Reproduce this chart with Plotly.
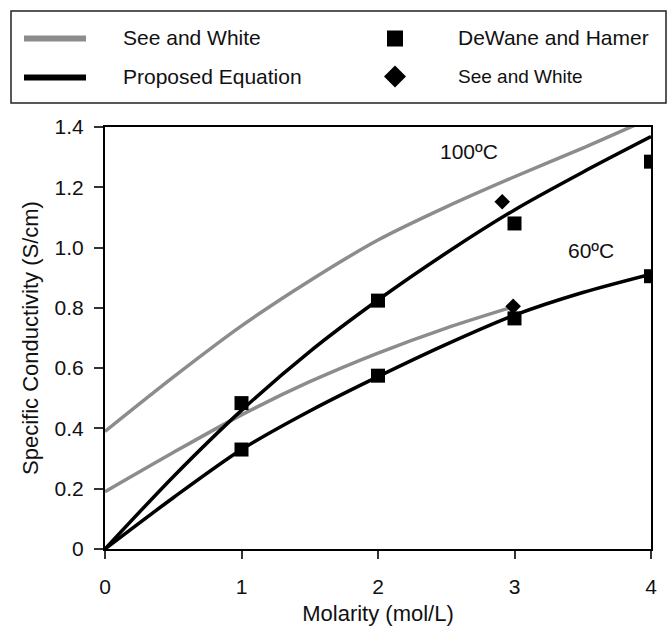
import plotly.graph_objects as go

# ---------------- data ----------------
x_curve = [0, 0.5, 1, 1.5, 2, 2.5, 3, 3.5, 4]
# See and White correlation (grey curves)
sw100_x = [0, 0.5, 1, 1.5, 2, 2.5, 3, 3.5, 4]
sw100_y = [0.39, 0.57, 0.74, 0.89, 1.025, 1.135, 1.235, 1.33, 1.43]
sw60_x = [0, 0.5, 1, 1.5, 2, 2.5, 3]
sw60_y = [0.19, 0.32, 0.445, 0.555, 0.65, 0.733, 0.805]
# Proposed equation (black curves)
pe100_y = [0, 0.24, 0.46, 0.655, 0.826, 0.982, 1.125, 1.25, 1.368]
pe60_y = [0, 0.17, 0.33, 0.458, 0.572, 0.679, 0.776, 0.851, 0.912]
# DeWane and Hamer data (squares)
dh_x = [1, 2, 3, 4, 1, 2, 3, 4]
dh_y = [0.484, 0.824, 1.08, 1.285, 0.33, 0.575, 0.765, 0.905]
# See and White data (diamonds)
swd_x = [2.91, 2.99]
swd_y = [1.152, 0.805]

x_ticks = [0, 1, 2, 3, 4]
x_ticktext = ["0", "1", "2", "3", "4"]
y_ticks = [0, 0.2, 0.4, 0.6, 0.8, 1.0, 1.2, 1.4]
y_ticktext = ["0", "0.2", "0.4", "0.6", "0.8", "1.0", "1.2", "1.4"]

temp_labels = ["100ºC", "60ºC"]
temp_label_x = [2.665, 3.56]
temp_label_y = [1.32, 0.99]

legend_labels = ["See and White", "Proposed Equation", "DeWane and Hamer", "See and White"]

# ---------------- style ----------------
FONT = "Liberation Sans, Arial, Helvetica, sans-serif"
GREY = "rgb(140,140,140)"
W, H = 668, 627
ML, MR, MT, MB = 105, 17, 127, 78
PW, PH = W - ML - MR, H - MT - MB


def px_x(px):
    return (px - ML) / PW


def px_y(py):
    return (H - MB - py) / PH


fig = go.Figure()

fig.add_trace(go.Scatter(x=sw100_x, y=sw100_y, mode="lines",
                         line=dict(color=GREY, width=3.5, shape="spline", smoothing=0.8),
                         showlegend=False, name="See and White"))
fig.add_trace(go.Scatter(x=sw60_x, y=sw60_y, mode="lines",
                         line=dict(color=GREY, width=3.5, shape="spline", smoothing=0.8),
                         showlegend=False, name="See and White"))
fig.add_trace(go.Scatter(x=x_curve, y=pe100_y, mode="lines",
                         line=dict(color="black", width=3.5, shape="spline", smoothing=0.8),
                         showlegend=False, name="Proposed Equation"))
fig.add_trace(go.Scatter(x=x_curve, y=pe60_y, mode="lines",
                         line=dict(color="black", width=3.5, shape="spline", smoothing=0.8),
                         showlegend=False, name="Proposed Equation"))
fig.add_trace(go.Scatter(x=dh_x, y=dh_y, mode="markers", marker=dict(symbol="square", size=14, color="black"),
                         showlegend=False, name="DeWane and Hamer"))
fig.add_trace(go.Scatter(x=swd_x, y=swd_y, mode="markers", marker=dict(symbol="diamond", size=12, color="black"),
                         showlegend=False, name="See and White"))

annotations = []
for t, xx, yy in zip(temp_labels, temp_label_x, temp_label_y):
    annotations.append(dict(x=xx, y=yy, xref="x", yref="y", text=t, showarrow=False,
                            font=dict(family=FONT, size=21, color="#111")))

# ---- custom legend (box, line samples, marker samples, labels) ----
shapes = []
shapes.append(dict(type="rect", xref="paper", yref="paper", x0=px_x(11), x1=px_x(666), y0=px_y(103), y1=px_y(11),
                   line=dict(color="#222", width=1.5), fillcolor="rgba(0,0,0,0)", layer="above"))
shapes.append(dict(type="line", xref="paper", yref="paper", x0=px_x(24), x1=px_x(86), y0=px_y(38.5), y1=px_y(38.5),
                   line=dict(color=GREY, width=6)))
shapes.append(dict(type="line", xref="paper", yref="paper", x0=px_x(24), x1=px_x(86), y0=px_y(77.5), y1=px_y(77.5),
                   line=dict(color="black", width=6)))
# square symbol
shapes.append(dict(type="rect", xref="paper", yref="paper", xsizemode="pixel", ysizemode="pixel",
                   xanchor=px_x(395), yanchor=px_y(38.5), x0=-8, x1=8, y0=-8, y1=8,
                   fillcolor="black", line=dict(width=0)))
# diamond symbol
shapes.append(dict(type="path", xref="paper", yref="paper", xsizemode="pixel", ysizemode="pixel",
                   xanchor=px_x(395), yanchor=px_y(76.5), path="M -11 0 L 0 11 L 11 0 L 0 -11 Z",
                   fillcolor="black", line=dict(width=0)))

leg_pos = [(121, 37.5), (121, 76.5), (456, 37.5), (456, 76.5)]
leg_sizes = [21, 21, 21, 19]
for lab, (lx, ly), fs in zip(legend_labels, leg_pos, leg_sizes):
    annotations.append(dict(x=px_x(lx), y=px_y(ly), xref="paper", yref="paper", text=lab, showarrow=False,
                            xanchor="left", yanchor="middle", font=dict(family=FONT, size=fs, color="#111")))

fig.update_layout(
    width=W, height=H,
    margin=dict(l=ML, r=MR, t=MT, b=MB, autoexpand=False),
    paper_bgcolor="white", plot_bgcolor="white",
    font=dict(family=FONT, color="#111"),
    shapes=shapes, annotations=annotations,
    showlegend=False,
)
fig.update_xaxes(
    range=[0, 4], tickvals=x_ticks, ticktext=x_ticktext, automargin=False,
    showgrid=False, zeroline=False,
    showline=True, linecolor="black", linewidth=2, mirror=True,
    ticks="outside", ticklen=8, tickwidth=1.5, tickcolor="#333",
    tickfont=dict(family=FONT, size=21, color="#111"), ticklabelstandoff=10,
    title=dict(text="Molarity (mol/L)", font=dict(family=FONT, size=22, color="#111"), standoff=8),
)
fig.update_yaxes(
    range=[0, 1.4], tickvals=y_ticks, ticktext=y_ticktext, automargin=False,
    showgrid=False, zeroline=False,
    showline=True, linecolor="black", linewidth=2, mirror=True,
    ticks="outside", ticklen=9, tickwidth=1.5, tickcolor="#333",
    tickfont=dict(family=FONT, size=21, color="#111"), ticklabelstandoff=6,
    title=dict(text="Specific Conductivity (S/cm)", font=dict(family=FONT, size=22, color="#111"), standoff=10),
)

fig.write_html("out.html", config={"displayModeBar": False},
               post_script="document.body.style.margin='0';document.body.style.overflow='hidden';")
